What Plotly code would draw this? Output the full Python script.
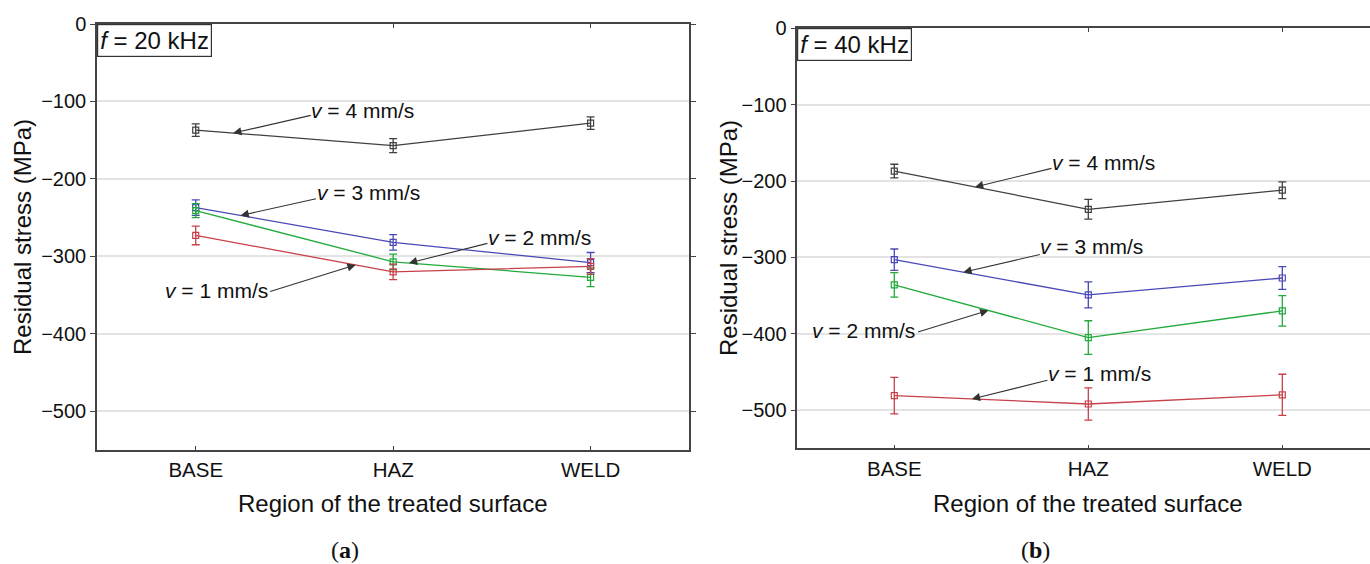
import plotly.graph_objects as go

# ---------------- data ----------------
categories = ["BASE", "HAZ", "WELD"]
speed_labels = ["v = 1 mm/s", "v = 2 mm/s", "v = 3 mm/s", "v = 4 mm/s"]

# f = 20 kHz
f20_v1 = [-273, -320, -313]
f20_v1_err = [12, 10, 10]
f20_v2 = [-241, -307, -327]
f20_v2_err = [9, 10, 12]
f20_v3 = [-237, -282, -308]
f20_v3_err = [10, 10, 13]
f20_v4 = [-137, -157, -128]
f20_v4_err = [8, 9, 8]

# f = 40 kHz
f40_v1 = [-481, -492, -480]
f40_v1_err = [24, 21, 27]
f40_v2 = [-336, -405, -370]
f40_v2_err = [16, 22, 20]
f40_v3 = [-303, -349, -327]
f40_v3_err = [14, 17, 15]
f40_v4 = [-187, -237, -212]
f40_v4_err = [9, 13, 11]

y_ticks = [0, -100, -200, -300, -400, -500]

# ---------------- style ----------------
W, H = 1370, 564
colors = ["#c8404a", "#22aa3c", "#4848b8", "#404040"]
FONT = "Liberation Sans"
AXC = "#444444"

fig = go.Figure()

panels = [
    ("x", "y", [f20_v1, f20_v2, f20_v3, f20_v4],
     [f20_v1_err, f20_v2_err, f20_v3_err, f20_v4_err]),
    ("x2", "y2", [f40_v1, f40_v2, f40_v3, f40_v4],
     [f40_v1_err, f40_v2_err, f40_v3_err, f40_v4_err]),
]

for xa, ya, series, errs in panels:
    for i in range(3, -1, -1):
        fig.add_trace(go.Scatter(
            x=categories, y=series[i], xaxis=xa, yaxis=ya,
            mode="lines+markers", name=speed_labels[i], showlegend=False,
            line=dict(color=colors[i], width=1.3),
            marker=dict(symbol="square-open", size=6, color=colors[i],
                        line=dict(width=1.2, color=colors[i])),
            error_y=dict(type="data", array=errs[i], visible=True,
                         color=colors[i], thickness=1.3, width=4),
        ))

def px_x(p):
    return p / W

def px_y(p):
    return 1 - p / H

xcommon = dict(showline=True, linecolor=AXC, linewidth=1.5, ticks="inside",
               ticklen=4, tickcolor=AXC, showgrid=False, zeroline=False,
               tickfont=dict(family=FONT, size=20.5, color="#111"),
               ticklabelstandoff=1, automargin=False)
ycommon = dict(range=[-550, 0], tickvals=y_ticks, showline=True, linecolor=AXC,
               linewidth=1.5, ticks="outside", ticklen=5, tickcolor=AXC,
               showgrid=True, gridcolor="#e4e4e4", gridwidth=1.5,
               zeroline=False, automargin=False,
               tickfont=dict(family=FONT, size=20, color="#111"))

fig.update_layout(
    width=W, height=H, margin=dict(l=0, r=0, t=0, b=0, autoexpand=False),
    paper_bgcolor="white", plot_bgcolor="white",
    xaxis=dict(domain=[px_x(97), px_x(689.3)], range=[-0.5, 2.5],
               mirror="ticks", anchor="y", **xcommon),
    yaxis=dict(domain=[px_y(450), px_y(24)], mirror="ticks", anchor="x",
               **ycommon),
    xaxis2=dict(domain=[px_x(797.3), 1.0], range=[-0.5, 2.452],
                mirror="ticks", anchor="y2", **xcommon),
    yaxis2=dict(domain=[px_y(448.3), px_y(28.3)], mirror=False, anchor="x2",
                **ycommon),
)

ann = []
tfont = dict(family=FONT, size=24, color="#111")

# axis titles
for xc, yc, ytitle_x in [(393, 237, 22), (1088, 238, 728)]:
    ann.append(dict(text="Region of the treated surface", x=px_x(xc), y=px_y(503),
                    xref="paper", yref="paper", showarrow=False, font=tfont,
                    xanchor="center", yanchor="middle"))
    ann.append(dict(text="Residual stress (MPa)", x=px_x(ytitle_x), y=px_y(yc),
                    xref="paper", yref="paper", showarrow=False, font=tfont,
                    textangle=-90, xanchor="center", yanchor="middle"))

# frequency boxes
for xa, ya, label in [("x", "y", "<i>f</i> = 20 kHz"), ("x2", "y2", "<i>f</i> = 40 kHz")]:
    ann.append(dict(text=label, x=0, y=1, xref=f"{xa} domain", yref=f"{ya} domain",
                    xanchor="left", yanchor="top", showarrow=False,
                    font=dict(family=FONT, size=24, color="#111"),
                    bordercolor="#333", borderwidth=1.2, borderpad=2,
                    bgcolor="white"))

# captions
for lab, xc in [("a", 345), ("b", 1035)]:
    ann.append(dict(text=f"(<b>{lab}</b>)", x=px_x(xc), y=px_y(550),
                    xref="paper", yref="paper", xanchor="center", yanchor="middle",
                    showarrow=False,
                    font=dict(family="Liberation Serif", size=24, color="#111")))

# arrow labels: (axis, series, segment start index, fraction, dx, dy, text side, text dy)
labels = [
    ("x", "y", f20_v4, 0, 0.19, 79, -18, "left", 5, "4"),
    ("x", "y", f20_v3, 0, 0.227, 77, -17, "left", 6, "3"),
    ("x", "y", f20_v2, 1, 0.08, 80, -20, "left", 6, "2"),
    ("x", "y", f20_v1, 0, 0.81, -87, 27, "right", 1, "1"),
    ("x2", "y2", f40_v4, 0, 0.416, 78, -19, "left", 5, "4"),
    ("x2", "y2", f40_v3, 0, 0.356, 78, -18, "left", 8, "3"),
    ("x2", "y2", f40_v2, 0, 0.485, -72, 22, "right", 2, "2"),
    ("x2", "y2", f40_v1, 0, 0.40, 77, -19, "left", 6, "1"),
]
for xa, ya, s, k, t, dx, dy, side, tdy, num in labels:
    hx = k + t
    hy = s[k] + t * (s[k + 1] - s[k])
    ann.append(dict(x=hx, y=hy, xref=xa, yref=ya, text="", showarrow=True,
                    ax=dx, ay=dy, axref="pixel", ayref="pixel",
                    arrowhead=2, arrowsize=1.5, arrowwidth=1.1, arrowcolor="#333",
                    standoff=0, startstandoff=0))
    ann.append(dict(x=hx, y=hy, xref=xa, yref=ya,
                    text=f"<i>v</i> = {num} mm/s", showarrow=False,
                    xanchor=side, yanchor="middle",
                    xshift=dx + (-3 if side == "left" else 1), yshift=-dy + tdy,
                    font=dict(family=FONT, size=21, color="#111")))

fig.update_layout(annotations=ann)

fig.write_html("out.html", config={"displayModeBar": False},
               post_script="document.body.style.margin='0';document.body.style.overflow='hidden';")
